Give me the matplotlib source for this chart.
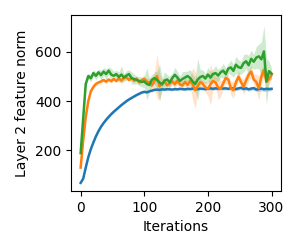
"""Layer 2 feature norm vs iterations, mean line with shaded spread per run."""
import matplotlib
matplotlib.use("Agg")
import matplotlib.pyplot as plt
import numpy as np

iterations = np.arange(0, 301, 4)

blue_mean = [68, 85, 130, 172, 205, 232, 257, 278, 296, 311, 324, 336, 347, 357, 366, 375,
             384, 392, 400, 407, 413, 419, 425, 430, 435, 438, 436, 440, 443, 446, 447, 446,
             448, 447, 449, 448, 447, 449, 448, 450, 449, 448, 450, 449, 451, 450, 449, 451,
             450, 449, 451, 452, 450, 452, 451, 453, 451, 452, 450, 453, 451, 449, 452, 454,
             450, 452, 448, 451, 453, 447, 449, 451, 448, 450, 449, 450]
blue_std = [3, 3, 4, 4, 4, 4, 4, 4, 4, 4, 4, 4, 4, 4, 4, 4,
            4, 4, 4, 4, 4, 4, 4, 4, 4, 5, 5, 5, 5, 5, 5, 5,
            5, 5, 5, 5, 5, 5, 5, 5, 5, 5, 5, 5, 5, 5, 5, 5,
            5, 5, 6, 6, 6, 6, 6, 6, 6, 6, 6, 7, 7, 7, 8, 8,
            8, 8, 8, 8, 8, 9, 9, 9, 9, 9, 8, 8]

orange_mean = [130, 240, 335, 400, 440, 458, 470, 476, 480, 486, 479, 488, 481, 490, 482, 492,
               484, 494, 497, 486, 494, 483, 492, 476, 486, 490, 480, 476, 464, 482, 502, 460,
               472, 480, 464, 472, 480, 468, 484, 468, 464, 478, 466, 482, 470, 444, 462, 478,
               470, 456, 450, 468, 482, 476, 456, 450, 472, 494, 488, 453, 444, 476, 500, 478,
               458, 484, 507, 520, 488, 478, 452, 500, 527, 478, 490, 506]
orange_std = [6, 10, 12, 10, 9, 8, 7, 7, 8, 7, 8, 7, 8, 7, 8, 7,
              8, 9, 8, 7, 8, 9, 8, 10, 9, 12, 14, 16, 28, 32, 90, 55,
              18, 14, 16, 12, 14, 18, 16, 14, 18, 16, 22, 18, 65, 75, 22, 18,
              16, 22, 28, 85, 32, 22, 50, 32, 20, 22, 18, 28, 32, 20, 22, 18,
              32, 28, 22, 28, 22, 32, 50, 32, 28, 38, 22, 18]

green_mean = [189, 330, 470, 502, 493, 514, 503, 517, 506, 520, 510, 524, 508, 503, 510, 498,
              508, 496, 504, 510, 494, 490, 486, 482, 478, 480, 470, 466, 487, 494, 486, 476,
              468, 484, 488, 476, 494, 507, 496, 482, 490, 496, 502, 494, 480, 470, 488, 498,
              502, 492, 508, 496, 510, 514, 504, 517, 524, 510, 532, 537, 523, 548, 538, 535,
              554, 562, 546, 572, 560, 577, 582, 570, 602, 480, 522, 512]
green_std = [5, 18, 14, 12, 15, 13, 17, 14, 20, 16, 22, 14, 26, 18, 16, 20,
             35, 16, 20, 18, 25, 20, 16, 18, 20, 25, 65, 30, 20, 25, 35, 75,
             25, 35, 20, 25, 20, 30, 25, 20, 30, 25, 20, 35, 30, 25, 85, 30,
             25, 20, 30, 25, 20, 30, 25, 20, 30, 25, 20, 30, 25, 35, 30, 25,
             35, 30, 40, 35, 30, 45, 50, 70, 105, 95, 40, 22]

fig = plt.figure(figsize=(3, 2.5), dpi=100)
ax = fig.add_axes([0.237, 0.236, 0.700, 0.704])
for mean, std, color in ((blue_mean, blue_std, "tab:blue"),
                         (orange_mean, orange_std, "tab:orange"),
                         (green_mean, green_std, "tab:green")):
    mean, std = np.asarray(mean, float), np.asarray(std, float)
    ax.plot(iterations, mean, color=color, lw=1.8)
    ax.fill_between(iterations, mean - std, mean + std, color=color, alpha=0.22, lw=0)
ax.set_xlim(-15, 315); ax.set_ylim(35, 750)
ax.set_xticks([0, 100, 200, 300]); ax.set_yticks([200, 400, 600])
ax.set_xlabel("Iterations"); ax.set_ylabel("Layer 2 feature norm")
fig.savefig("out.png", dpi=100)
